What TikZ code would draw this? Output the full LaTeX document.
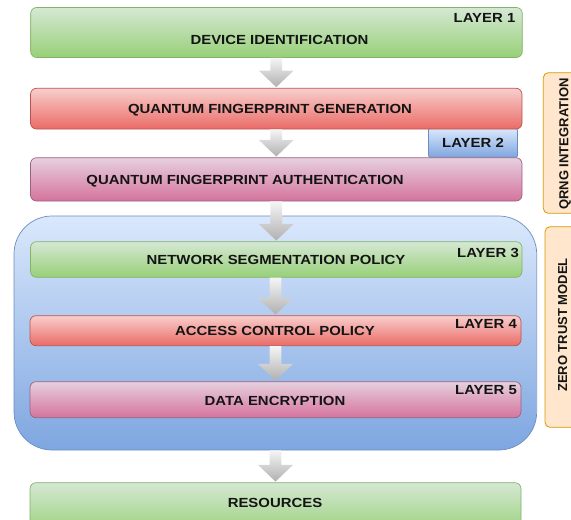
\documentclass[tikz,border=0pt]{standalone}
\usepackage{fontspec}
\newfontfamily\lblfont{Liberation Sans}[FakeStretch=1.13]
\newfontfamily\sidefont{Liberation Sans}
\usetikzlibrary{calc}

% fills and strokes
\definecolor{grnT}{HTML}{D5E8D4}\definecolor{grnB}{HTML}{97D077}\definecolor{grnD}{HTML}{82B366}
\definecolor{redT}{HTML}{F8CECC}\definecolor{redB}{HTML}{EA6B66}\definecolor{redD}{HTML}{B85450}
\definecolor{pnkT}{HTML}{E6D0DE}\definecolor{pnkB}{HTML}{D5739D}\definecolor{pnkD}{HTML}{996185}
\definecolor{bluT}{HTML}{DAE8FC}\definecolor{bluB}{HTML}{7EA6E0}\definecolor{bluD}{HTML}{6C8EBF}
\definecolor{orgF}{HTML}{FFE6CC}\definecolor{orgD}{HTML}{D79B00}
\definecolor{arrT}{HTML}{F5F5F5}\definecolor{arrB}{HTML}{B0B0B0}
\definecolor{ink}{HTML}{141414}

\tikzset{
  box/.style={rectangle, rounded corners=6pt, line width=0.7pt, inner sep=0pt},
  greenbox/.style={box, draw=grnD, top color=grnT, bottom color=grnB},
  redbox/.style={box, draw=redD, top color=redT, bottom color=redB},
  pinkbox/.style={box, draw=pnkD, top color=pnkT, bottom color=pnkB},
  bluebox/.style={box, draw=bluD, top color=bluT, bottom color=bluB},
  sidebox/.style={rectangle, rounded corners=5pt, line width=0.8pt, draw=orgD, fill=orgF},
  txt/.style={font=\lblfont\bfseries\fontsize{13.2}{15}\selectfont, text=ink,
    inner sep=0pt, text height=9.4pt, text depth=0pt},
  sidetxt/.style={font=\sidefont\bfseries\fontsize{13}{15}\selectfont, text=ink,
    inner sep=0pt, text height=9.3pt, text depth=0pt, rotate=90},
  flowarr/.style={top color=arrT, bottom color=arrB, draw=none},
}

% block arrow from the bottom of one box to the top of the next
\newcommand\flowarrow[2]{%
  \path[flowarr] let \p1=(#1.south), \p2=(#2.north) in
    (\x2-5.8pt,\y1) -- (\x2+5.8pt,\y1) -- (\x2+5.8pt,\y2+17.4pt) -- (\x2+17.4pt,\y2+17.4pt)
    -- (\x2,\y2+0.8pt) -- (\x2-17.4pt,\y2+17.4pt) -- (\x2-5.8pt,\y2+17.4pt) -- cycle;}

\begin{document}
\begin{tikzpicture}[x=1pt,y=-1pt]
\useasboundingbox (0,0) rectangle (571,520);

% zero trust container
\node[bluebox, rounded corners=38pt, minimum width=522.7pt, minimum height=234pt] (zt) at (275.35,333) {};

% layer boxes
\node[greenbox, minimum width=491.6pt, minimum height=50pt] (b1) at (276.5,32.5) {};
\node[bluebox, rounded corners=1.5pt, minimum width=89pt, minimum height=29pt] (tab) at (473,142.8) {};
\node[redbox, minimum width=491.5pt, minimum height=40.7pt] (b2) at (276.25,108.65) {};
\node[pinkbox, minimum width=491.5pt, minimum height=43.3pt] (b3) at (276.25,179.35) {};
\node[greenbox, minimum width=491.5pt, minimum height=35.6pt] (b4) at (276.25,259.5) {};
\node[redbox, minimum width=491pt, minimum height=30pt] (b5) at (275.5,330.7) {};
\node[pinkbox, minimum width=491pt, minimum height=36pt] (b6) at (275.5,399.7) {};
\node[greenbox, minimum width=491pt, minimum height=52.3pt] (b7) at (275.5,508.85) {};

% side bands
\node[sidebox, minimum width=46.7pt, minimum height=140.6pt] (qb) at (566.65,143) {};
\node[sidebox, minimum width=45pt, minimum height=200.6pt] (zb) at (567.5,327) {};

% block arrows
\flowarrow{b1}{b2}
\flowarrow{b2}{b3}
\flowarrow{b3}{b4}
\flowarrow{b4}{b5}
\flowarrow{b5}{b6}
\flowarrow{zt}{b7}

% texts
\node[txt] (t1) at (279.5,40) {DEVICE IDENTIFICATION};
\node[txt, anchor=east] (l1) at (515.5,17.8) {LAYER 1};
\node[txt] (t2) at (270,108.5) {QUANTUM FINGERPRINT GENERATION};
\node[txt] (l2) at (473,142.5) {LAYER 2};
\node[txt] (t3) at (245,180) {QUANTUM FINGERPRINT AUTHENTICATION};
\node[txt] (t4) at (276,260) {NETWORK SEGMENTATION POLICY};
\node[txt, anchor=east] (l3) at (519,253) {LAYER 3};
\node[txt] (t5) at (275,330.3) {ACCESS CONTROL POLICY};
\node[txt, anchor=east] (l4) at (517,324) {LAYER 4};
\node[txt] (t6) at (275,400.3) {DATA ENCRYPTION};
\node[txt, anchor=east] (l5) at (517,390) {LAYER 5};
\node[txt] (t7) at (275,503) {RESOURCES};
\node[sidetxt] (qt) at (563.8,144) {QRNG INTEGRATION};
\node[sidetxt] (ztt) at (562.5,325) {ZERO TRUST MODEL};
\end{tikzpicture}
\end{document}
